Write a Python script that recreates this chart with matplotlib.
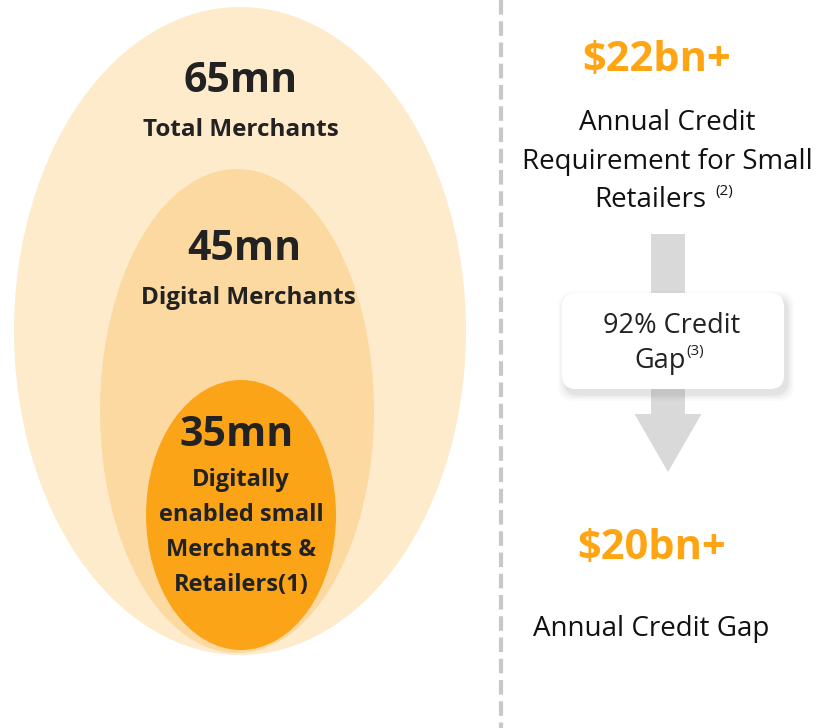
import matplotlib
matplotlib.use("Agg")
import matplotlib.pyplot as plt
from matplotlib.patches import Ellipse, FancyBboxPatch, FancyArrow

# ---- data ----
merchant_values = [65, 45, 35]
merchant_labels = ["Total Merchants", "Digital Merchants",
                   "Digitally\nenabled small\nMerchants &\nRetailers(1)"]
credit_requirement_bn = 22
credit_gap_bn = 20
credit_gap_pct = 92

plt.rcParams['font.family'] = ['Open Sans', 'DejaVu Sans']

W, H = 821, 728
fig = plt.figure(figsize=(W / 100, H / 100), dpi=100)
ax = fig.add_axes([0, 0, 1, 1])
ax.set_xlim(0, W)
ax.set_ylim(H, 0)
ax.axis('off')

dark = '#222222'
orange = '#FFA514'

# ellipses: (cx, cy, w, h, color)
ell_geom = [(240, 331, 452, 648, '#FDEBCC'),
            (237, 411, 274, 484, '#FCD9A0'),
            (241, 515, 190, 270, '#FBA418')]
for (cx, cy, w, h, c) in ell_geom:
    ax.add_patch(Ellipse((cx, cy), w, h, facecolor=c, edgecolor='none', zorder=1))

# left texts
val_pos = [(241, 82), (244, 250), (237, 435)]
lab_pos = [(241, 130), (248, 298), (241, 480)]
lab_fs = [17.5, 17.5, 17]
for v, lab, (vx, vy), (lx, ly), fs in zip(merchant_values, merchant_labels, val_pos, lab_pos, lab_fs):
    ax.text(vx, vy, f"{v}mn", ha='center', va='center', fontsize=29.5, fontweight='bold',
            color=dark, zorder=3)
    for i, line in enumerate(lab.split("\n")):
        ax.text(lx, ly + 35 * i, line, ha='center', va='center', fontsize=fs,
                fontweight='bold', color=dark, zorder=3)

# dashed divider
ax.plot([501, 501], [0, H], color='#c8c8c8', lw=3, ls=(0, (3.5, 1.6)), zorder=1)

# right panel
txt = '#111111'
ax.text(657, 60, f"${credit_requirement_bn}bn+", ha='center', va='center', fontsize=30,
        fontweight='bold', color=orange)
ax.text(667, 123, "Annual Credit", ha='center', va='center', fontsize=20, color=txt)
ax.text(667, 162, "Requirement for Small", ha='center', va='center', fontsize=20, color=txt)
ax.text(706, 200, "Retailers", ha='right', va='center', fontsize=20, color=txt)
ax.text(715, 192, "(2)", ha='left', va='center', fontsize=11, color=txt)

# arrow
ax.add_patch(FancyArrow(668, 234, 0, 238, width=34, head_width=67, head_length=58,
                        length_includes_head=True, facecolor='#d9d9d9', edgecolor='none',
                        zorder=2))

# box with soft shadow
for k, a in [(7, 0.04), (5, 0.05), (3, 0.06), (1.5, 0.08)]:
    ax.add_patch(FancyBboxPatch((562 + 3 - k, 293 + 5 - k), 222 + 2 * k, 96 + 2 * k,
                                boxstyle="round,pad=0,rounding_size=16",
                                facecolor='#808080', edgecolor='none', alpha=a, zorder=3))
ax.add_patch(FancyBboxPatch((562, 293), 222, 96, boxstyle="round,pad=0,rounding_size=14",
                            facecolor='white', edgecolor='none', zorder=4))
ax.text(672, 326, f"{credit_gap_pct}% Credit", ha='center', va='center', fontsize=19.5,
        color='#222222', zorder=5)
ax.text(686, 361, "Gap", ha='right', va='center', fontsize=19.5, color='#222222', zorder=5)
ax.text(686, 352, "(3)", ha='left', va='center', fontsize=11, color='#222222', zorder=5)

ax.text(652, 548, f"${credit_gap_bn}bn+", ha='center', va='center', fontsize=30,
        fontweight='bold', color=orange)
ax.text(651, 629, "Annual Credit Gap", ha='center', va='center', fontsize=20, color=txt)

fig.savefig("out.png", dpi=100)
